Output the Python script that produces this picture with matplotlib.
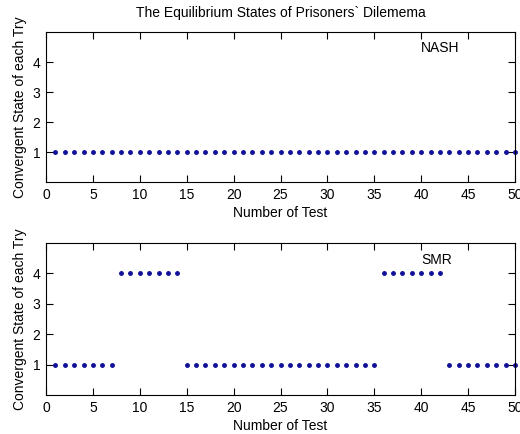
import numpy as np
import matplotlib
matplotlib.use('Agg')
import matplotlib.pyplot as plt

plt.rcParams['font.family'] = ['Liberation Sans', 'DejaVu Sans']

# test number 1..50
tests = np.arange(1, 51)
nash_state = [1] * 50
smr_state = [1] * 7 + [4] * 7 + [1] * 21 + [4] * 7 + [1] * 8

fig = plt.figure(figsize=(5.2, 4.34), dpi=100)
ax1 = fig.add_axes([46 / 520, 1 - 182 / 434, 469 / 520, 150 / 434])
ax2 = fig.add_axes([46 / 520, 1 - 395 / 434, 469 / 520, 152 / 434])

for ax, vals, name in [(ax1, nash_state, 'NASH'), (ax2, smr_state, 'SMR')]:
    ax.plot(tests, vals, linestyle='none', marker='.', color='#10109a',
            markersize=5, clip_on=False)
    ax.set_xlim(0, 50)
    ax.set_ylim(0, 5)
    ax.set_xticks(range(0, 51, 5))
    ax.set_yticks([1, 2, 3, 4])
    ax.tick_params(direction='in', top=True, right=True, labelsize=10,
                   length=5, width=0.8, pad=4)
    for s in ax.spines.values():
        s.set_linewidth(0.8)
    ax.set_xlabel('Number of Test', fontsize=10, labelpad=3)
    ax.set_ylabel('Convergent State of each Try', fontsize=10, labelpad=4)
    ax.text(40, 4.45, name, fontsize=10, va='center', ha='left')

ax1.set_title('The Equilibrium States of Prisoners` Dilemema', fontsize=10, pad=11)

fig.savefig('out.png', dpi=100)
